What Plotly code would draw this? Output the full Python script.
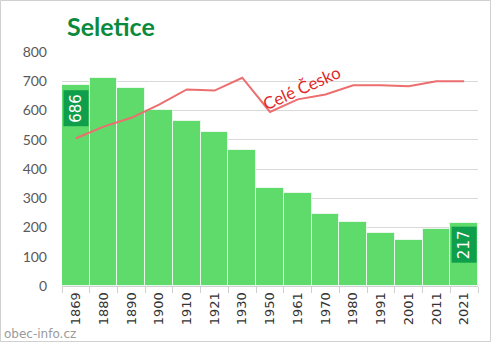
import plotly.graph_objects as go

years = ["1869", "1880", "1890", "1900", "1910", "1921", "1930", "1950",
         "1961", "1970", "1980", "1991", "2001", "2011", "2021"]
population = [686, 712, 678, 601, 563, 525, 464, 334, 318, 246, 219, 181, 156, 195, 217]
czechia_scaled = [505, 545, 575, 620, 672, 668, 712, 595, 638, 655, 686, 686, 683, 700, 700]
y_ticks = [0, 100, 200, 300, 400, 500, 600, 700, 800]

W, H = 492, 343
ml, mr, mt, mb = 62, 14, 52, 57
pw, ph = W - ml - mr, H - mt - mb

fig = go.Figure()
fig.add_trace(go.Bar(
    x=years, y=population,
    marker=dict(color="#5EDB6A", line=dict(color="#E8F8EA", width=1)),
    hoverinfo="x+y",
))
fig.add_trace(go.Scatter(
    x=years, y=czechia_scaled, mode="lines",
    line=dict(color="#EC6E6E", width=2),
))

for idx in (0, len(years) - 1):
    fig.add_annotation(
        x=idx, y=population[idx], yanchor="top", yshift=-4,
        text=str(population[idx]), textangle=-90, showarrow=False,
        font=dict(family="DejaVu Sans", size=15, color="white"),
        bgcolor="#0E9E4C", borderpad=3,
    )

fig.add_annotation(
    x=8.15, y=680, text="Celé Česko", textangle=-24, showarrow=False,
    font=dict(family="Lato", size=17, color="#E02828"),
)

fig.add_annotation(
    xref="paper", yref="paper", x=-(ml - 2) / pw, y=-(mb - 9) / ph,
    xanchor="left", yanchor="middle", text="obec-info.cz", showarrow=False,
    font=dict(family="DejaVu Sans", size=12, color="#9A9A9A"),
)

fig.add_shape(
    type="rect", xref="paper", yref="paper",
    x0=-(ml - 0.5) / pw, x1=1 + (mr - 1.5) / pw,
    y0=-(mb - 1.5) / ph, y1=1 + (mt - 0.5) / ph,
    line=dict(color="#D0D0D0", width=1), layer="above",
)

fig.update_layout(
    width=W, height=H, margin=dict(l=ml, r=mr, t=mt, b=mb),
    paper_bgcolor="white", plot_bgcolor="white",
    showlegend=False, bargap=0,
    title=dict(text="<b>Seletice</b>", x=67 / W, xanchor="left",
               y=1 - 27 / H, yanchor="middle", yref="container",
               font=dict(family="Lato", size=25, color="#0A8A3C")),
    xaxis=dict(type="category", range=[-0.5, len(years) - 0.5], tickangle=-90,
               ticks="outside", tickson="boundaries",
               ticklen=6, tickcolor="#D0D0D0", showline=True, linecolor="#D0D0D0",
               tickfont=dict(family="DejaVu Sans", size=13, color="#333333"),
               showgrid=False),
    yaxis=dict(range=[0, 800], tickvals=y_ticks, showgrid=True, gridcolor="#D9D9D9",
               zeroline=False, ticks="", ticklabelstandoff=14,
               tickfont=dict(family="Lato", size=14, color="#595959")),
)

fig.write_html("out.html")
